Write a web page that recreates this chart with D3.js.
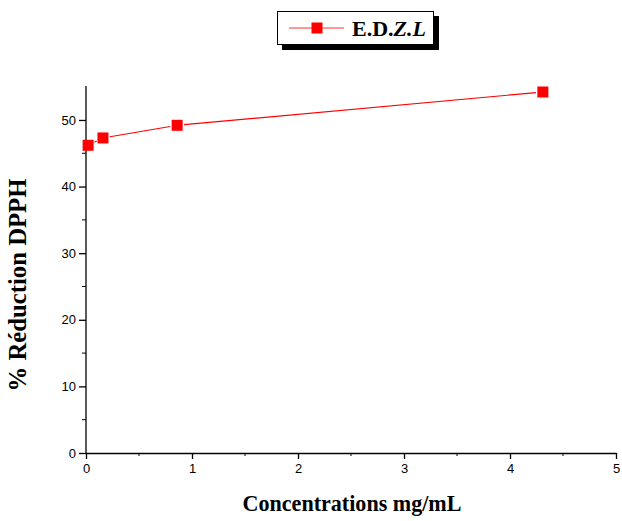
<!DOCTYPE html>
<html>
<head>
<meta charset="utf-8">
<script src="https://cdn.jsdelivr.net/npm/d3@7"></script>
<style>
  html, body { margin: 0; padding: 0; background: #fff; }
  svg { display: block; }
</style>
</head>
<body>
<script>
// DPPH radical scavenging of the extract versus concentration
const concentrations = [0.02, 0.16, 0.86, 4.31];   // mg/mL
const reduction = [46.2, 47.3, 49.2, 54.2];          // % DPPH reduction
const xTicks = [0, 1, 2, 3, 4, 5];
const yTicks = [0, 10, 20, 30, 40, 50];
const seriesName = ["E.D.", "Z.L"];

const W = 622, H = 521;
const svg = d3.select("body").append("svg").attr("width", W).attr("height", H);

const x = d3.scaleLinear().domain([0, 5]).range([86, 616]);
const y = d3.scaleLinear().domain([0, 55.1]).range([453, 86]);

const axisColor = "#000";
const fmt = d3.format("d");

// Left axis
const gy = svg.append("g").attr("transform", `translate(${x(0)},0)`)
  .call(d3.axisLeft(y).tickValues(yTicks).tickFormat(fmt).tickSize(7).tickPadding(3).tickSizeOuter(0));
gy.select(".domain").attr("d", `M0,${y(0)}V${y.range()[1]}`);
gy.selectAll(".tick text").attr("font-family", "Liberation Sans, Arial, sans-serif")
  .attr("font-size", 13).attr("fill", "#000");
// minor ticks on y
svg.append("g").selectAll("line")
  .data(d3.range(5, 55, 10)).join("line")
  .attr("x1", x(0) - 4).attr("x2", x(0))
  .attr("y1", d => y(d)).attr("y2", d => y(d))
  .attr("stroke", axisColor).attr("stroke-width", 1);

// Bottom axis
const gx = svg.append("g").attr("transform", `translate(0,${y(0)})`)
  .call(d3.axisBottom(x).tickValues(xTicks).tickFormat(fmt).tickSize(6).tickPadding(5).tickSizeOuter(0));
gx.selectAll(".tick text").attr("font-family", "Liberation Sans, Arial, sans-serif")
  .attr("font-size", 13).attr("fill", "#000");
svg.append("g").selectAll("line")
  .data(d3.range(0.5, 5, 1)).join("line")
  .attr("x1", d => x(d)).attr("x2", d => x(d))
  .attr("y1", y(0)).attr("y2", y(0) + 3)
  .attr("stroke", axisColor).attr("stroke-width", 1);

svg.selectAll(".domain, .tick line").attr("stroke", axisColor).attr("stroke-width", 1.3);

// Axis titles, sized to their drawn widths
function fitTitle(sel, target) {
  const w = sel.node().getComputedTextLength();
  sel.attr("font-size", 21 * target / w);
}
const xt = svg.append("text")
  .attr("x", 352).attr("y", 511)
  .attr("text-anchor", "middle")
  .attr("font-family", "Liberation Serif, Times New Roman, serif")
  .attr("font-weight", "bold").attr("font-size", 21)
  .text("Concentrations mg/mL");
fitTitle(xt, 219);

const yt = svg.append("text")
  .attr("transform", "translate(26,285) rotate(-90)")
  .attr("text-anchor", "middle")
  .attr("font-family", "Liberation Serif, Times New Roman, serif")
  .attr("font-weight", "bold").attr("font-size", 21)
  .text("% Réduction DPPH");
fitTitle(yt, 213);

// Series: line segments with gaps around markers
const pts = concentrations.map((c, i) => [x(c), y(reduction[i])]);
const gap = 7;
const seg = svg.append("g");
for (let i = 0; i < pts.length - 1; i++) {
  const [x1, y1] = pts[i], [x2, y2] = pts[i + 1];
  const len = Math.hypot(x2 - x1, y2 - y1);
  if (len <= 2 * gap) continue;
  const ux = (x2 - x1) / len, uy = (y2 - y1) / len;
  seg.append("line")
    .attr("x1", x1 + ux * gap).attr("y1", y1 + uy * gap)
    .attr("x2", x2 - ux * gap).attr("y2", y2 - uy * gap)
    .attr("stroke", "#ff0000").attr("stroke-width", 1.2);
}
const ms = 11;
svg.append("g").selectAll("rect")
  .data(pts).join("rect")
  .attr("x", d => d[0] - ms / 2).attr("y", d => d[1] - ms / 2)
  .attr("width", ms).attr("height", ms)
  .attr("fill", "#ff0000");

// Legend with drop shadow
const lg = svg.append("g");
lg.append("rect").attr("x", 282).attr("y", 16).attr("width", 157).attr("height", 34).attr("fill", "#000");
lg.append("rect").attr("x", 277.5).attr("y", 11.5).attr("width", 156).attr("height", 33)
  .attr("fill", "#fff").attr("stroke", "#000").attr("stroke-width", 1);
lg.append("line").attr("x1", 289).attr("x2", 344).attr("y1", 28).attr("y2", 28)
  .attr("stroke", "#ff3030").attr("stroke-width", 1.2);
lg.append("rect").attr("x", 317 - 5.5).attr("y", 28 - 5.5).attr("width", 11).attr("height", 11).attr("fill", "#ff0000");
const lt = lg.append("text").attr("x", 352).attr("y", 36)
  .attr("font-family", "Liberation Serif, Times New Roman, serif")
  .attr("font-weight", "bold").attr("font-size", 22);
lt.append("tspan").text(seriesName[0]);
lt.append("tspan").attr("font-style", "italic").text(seriesName[1]);
</script>
</body>
</html>
